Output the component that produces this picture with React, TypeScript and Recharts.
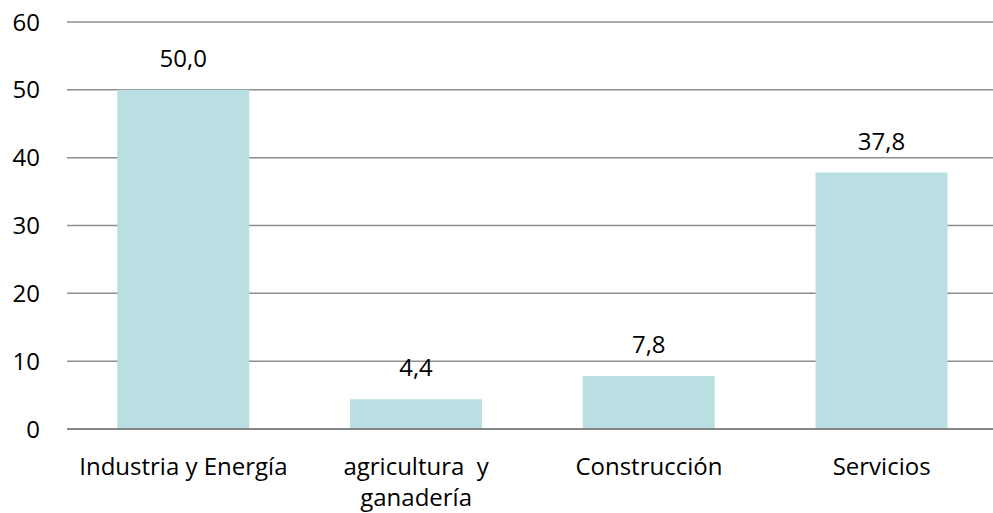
import { BarChart, Bar, XAxis, YAxis, CartesianGrid, LabelList } from 'recharts'

const categories = ['Industria y Energía', 'agricultura  y\nganadería', 'Construcción', 'Servicios']
const values = [50.0, 4.4, 7.8, 37.8]
const yTicks = [0, 10, 20, 30, 40, 50, 60]

const FONT = '"Open Sans", sans-serif'
const FONT_SIZE = 24
const BAR_COLOR = '#b9dfe2'
const GRID_COLOR = '#8e8e8e'

const data = categories.map((name, i) => ({ name, value: values[i] }))

function formatValue(v: number): string {
  return v.toFixed(1).replace('.', ',')
}

function CategoryTick(props: any) {
  const { x, y, payload } = props
  const lines = String(payload.value).split('\n')
  return (
    <text x={x} y={y} textAnchor="middle" fill="#000" fontSize={FONT_SIZE} fontFamily={FONT} style={{ whiteSpace: 'pre' }}>
      {lines.map((line, i) => (
        <tspan key={i} x={x} dy={i === 0 ? '0.71em' : 31}>
          {line}
        </tspan>
      ))}
    </text>
  )
}

export default function App() {
  return (
    <div style={{ position: 'fixed', left: 0, top: 0, width: 993, height: 513, overflow: 'hidden', background: '#fff' }}>
      <BarChart
        width={1000}
        height={513}
        data={data}
        margin={{ top: 22, right: 2, bottom: 0, left: 0 }}
        barCategoryGap="21.6%"
      >
        <CartesianGrid vertical={false} stroke={GRID_COLOR} strokeWidth={1.5} />
        <XAxis
          dataKey="name"
          height={84}
          tick={<CategoryTick />}
          tickLine={false}
          axisLine={{ stroke: '#868686', strokeWidth: 2 }}
          tickMargin={23}
          interval={0}
        />
        <YAxis
          domain={[0, 60]}
          ticks={yTicks}
          width={67}
          axisLine={false}
          tickLine={false}
          tickMargin={21}
          tick={{ fontSize: FONT_SIZE, fill: '#000', fontFamily: FONT }}
        />
        <Bar dataKey="value" fill={BAR_COLOR} isAnimationActive={false}>
          <LabelList
            dataKey="value"
            position="top"
            offset={23}
            formatter={(v: any) => formatValue(Number(v))}
            style={{ fontSize: FONT_SIZE, fill: '#000', fontFamily: FONT }}
          />
        </Bar>
      </BarChart>
    </div>
  )
}
